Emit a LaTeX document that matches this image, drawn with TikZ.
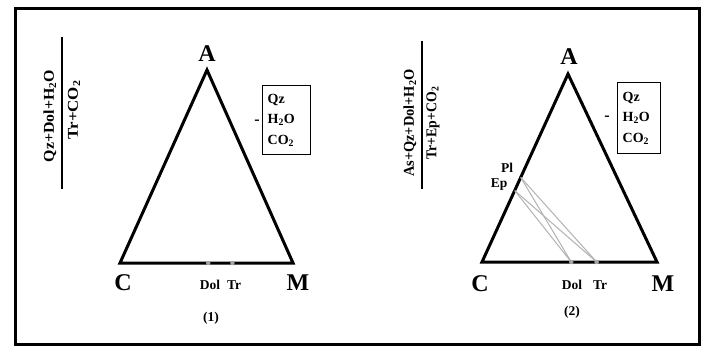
\documentclass[tikz,border=0pt]{standalone}
\usepackage{fontspec}
\setmainfont{Liberation Serif}
\usetikzlibrary{calc}
\tikzset{
  vlabel/.style={font=\fontsize{24}{24}\selectfont\bfseries, inner sep=0pt},
  smalllabel/.style={font=\fontsize{13.5}{14}\selectfont\bfseries, inner sep=0pt},
  tri/.style={line width=3pt, line join=miter},
  frame/.style={line width=3pt},
  fracline/.style={line width=2.5pt},
  fractext/.style={font=\fontsize{15}{15}\selectfont\bfseries, rotate=90, inner sep=0pt},
  mineralbox/.style={draw, line width=1.3pt, align=left, inner xsep=4pt, anchor=north west,
     font=\fontsize{14}{20.5}\selectfont\bfseries, minimum height=69pt},
  tie/.style={gray!60, line width=1pt},
  tickdot/.style={circle, fill=gray!70, inner sep=0pt, minimum size=4.5pt},
}
\begin{document}
\begin{tikzpicture}[x=1pt,y=-1pt]
\useasboundingbox (0,0) rectangle (708,352);
\fill[white] (0,0) rectangle (708,352);
\draw[frame] (15,9) rectangle (699,344);

% ---------- panel 1 ----------
\coordinate (A1) at (207,70);
\coordinate (C1) at (120,263);
\coordinate (M1) at (293,263);
\draw[tri] (A1) -- (M1) -- (C1) -- cycle;
\node[vlabel] (lA1) at (207,54) {A};
\node[vlabel] (lC1) at (123,283) {C};
\node[vlabel] (lM1) at (298,283) {M};
\coordinate (D1) at ($(C1)!0.51!(M1)$);
\coordinate (T1) at ($(C1)!0.65!(M1)$);
\node[tickdot] (dD1) at (D1) {};
\node[tickdot] (dT1) at (T1) {};
\node[smalllabel] (lD1) at (210,285) {Dol};
\node[smalllabel] (lT1) at (234,285) {Tr};
\node[smalllabel] (cap1) at (211,318) {(1)};
\node[mineralbox, minimum width=48pt, text width=38pt] (box1) at (262,85) {Qz\\H\textsubscript{2}O\\CO\textsubscript{2}};
\node[font=\fontsize{16}{16}\selectfont\bfseries, inner sep=0pt] (dash1) at (257,122) {-};
\draw[fracline] (62,37) -- (62,189);
\node[fractext] (num1) at (50,116) {\scalebox{1.06}[1]{Qz+Dol+H\textsubscript{2}O}};
\node[fractext] (den1) at (74,110) {\scalebox{1.13}[1]{Tr+CO\textsubscript{2}}};

% ---------- panel 2 ----------
\coordinate (A2) at (568,74);
\coordinate (C2) at (482,262);
\coordinate (M2) at (657,262);
\draw[tri] (A2) -- (M2) -- (C2) -- cycle;
\node[vlabel] (lA2) at (569,57) {A};
\node[vlabel] (lC2) at (480,284) {C};
\node[vlabel] (lM2) at (663,284) {M};
\coordinate (D2) at ($(C2)!0.51!(M2)$);
\coordinate (T2) at ($(C2)!0.655!(M2)$);
\coordinate (P2) at ($(C2)!0.45!(A2)$);
\coordinate (E2) at ($(C2)!0.38!(A2)$);
\draw[tie] (P2) -- (D2);
\draw[tie] (P2) -- (T2);
\draw[tie] (E2) -- (D2);
\draw[tie] (E2) -- (T2);
\node[tickdot] (dD2) at (D2) {};
\node[tickdot] (dT2) at (T2) {};
\node[smalllabel] (lD2) at (572,285) {Dol};
\node[smalllabel] (lT2) at (600,285) {Tr};
\node[smalllabel] (lP2) at (507,168) {Pl};
\node[smalllabel] (lE2) at (499,185) {Ep};
\node[smalllabel] (cap2) at (572,312) {(2)};
\node[mineralbox, minimum width=43pt, text width=33pt, minimum height=71pt] (box2) at (617,82) {Qz\\H\textsubscript{2}O\\CO\textsubscript{2}};
\node[font=\fontsize{16}{16}\selectfont\bfseries, inner sep=0pt] (dash2) at (607,118) {-};
\draw[fracline] (422,41) -- (422,189);
\node[fractext] (num2) at (410,123) {\scalebox{0.96}[1]{As+Qz+Dol+H\textsubscript{2}O}};
\node[fractext] (den2) at (433,123) {\scalebox{0.92}[1]{Tr+Ep+CO\textsubscript{2}}};
\end{tikzpicture}
\end{document}
